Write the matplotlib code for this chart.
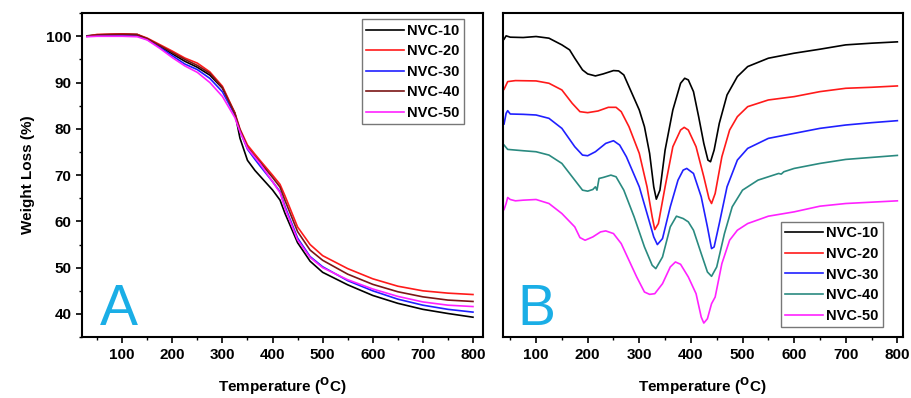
import numpy as np
import matplotlib.pyplot as plt
from matplotlib.ticker import MultipleLocator

plt.rcParams['font.family'] = ['Liberation Sans', 'DejaVu Sans']
plt.rcParams['font.weight'] = 'bold'

labels = ['NVC-10', 'NVC-20', 'NVC-30', 'NVC-40', 'NVC-50']

# --- panel A: TGA (weight %) ---
tga_t = [30, 50, 100, 130, 150, 175, 200, 225, 250, 275, 300, 325, 335, 350,
         365, 375, 400, 415, 425, 450, 475, 500, 550, 600, 650, 700, 750, 800]
tga_10 = [100.1, 100.3, 100.5, 100.4, 99.4, 97.8, 96.2, 94.6, 93.3, 91.6, 88.8, 83.4, 78.0, 73.2,
          71.0, 69.8, 66.8, 64.6, 61.7, 55.4, 51.4, 49.0, 46.3, 44.0, 42.3, 41.0, 40.1, 39.3]
tga_20 = [100.0, 100.4, 100.5, 100.4, 99.6, 98.2, 96.8, 95.3, 94.2, 92.3, 89.2, 83.4, 80.0, 76.5,
          74.5, 73.2, 70.0, 68.0, 65.5, 58.8, 55.0, 52.6, 49.8, 47.6, 46.0, 45.0, 44.5, 44.2]
tga_30 = [100.0, 100.1, 100.2, 100.1, 99.3, 97.6, 95.8, 94.0, 92.8, 90.9, 88.0, 83.0, 79.6, 75.6,
          73.4, 72.0, 68.6, 66.4, 63.2, 56.4, 52.4, 50.2, 47.2, 45.0, 43.2, 41.9, 41.0, 40.4]
tga_40 = [100.0, 100.3, 100.4, 100.3, 99.5, 98.0, 96.5, 95.0, 93.7, 92.0, 88.9, 83.2, 79.8, 76.0,
          74.0, 72.8, 69.5, 67.4, 64.5, 57.8, 53.8, 51.6, 48.6, 46.4, 44.8, 43.7, 43.0, 42.7]
tga_50 = [99.9, 100.0, 100.0, 99.9, 99.2, 97.4, 95.4, 93.6, 92.2, 90.0, 87.0, 82.4, 79.4, 75.8,
          73.8, 72.5, 68.6, 66.2, 62.8, 56.0, 52.2, 50.0, 47.4, 45.4, 43.8, 42.6, 41.9, 41.6]

# --- panel B: DTG (arbitrary units, offset curves) ---
dtg_t10 = [38, 42, 50, 75, 100, 125, 150, 165, 175, 190, 200, 215, 230, 250, 260, 270, 280, 300,
           310, 320, 328, 333, 340, 350, 365, 380, 388, 395, 405, 415, 425, 433, 438, 445, 455,
           470, 490, 510, 550, 600, 650, 700, 750, 800]
dtg_10 = [118, 108, 112, 113, 110, 115, 135, 150, 175, 210, 222, 228, 222, 212, 213, 225, 260, 330,
          380, 460, 560, 597, 570, 450, 330, 250, 235, 240, 275, 350, 430, 480, 485, 450, 370,
          285, 230, 200, 175, 160, 148, 135, 130, 126]
dtg_t20 = [38, 45, 60, 100, 125, 150, 170, 185, 200, 220, 240, 255, 265, 280, 300, 315, 325, 330,
           337, 350, 365, 380, 387, 395, 410, 425, 435, 440, 447, 460, 475, 490, 510, 550, 600,
           650, 700, 750, 800]
dtg_20 = [268, 245, 242, 243, 250, 270, 310, 335, 338, 333, 322, 322, 335, 380, 460, 560, 650, 688,
          670, 560, 440, 390, 382, 390, 440, 530, 595, 610, 580, 470, 390, 350, 320, 300, 290,
          275, 265, 262, 258]
dtg_t30 = [38, 42, 45, 50, 75, 100, 125, 150, 175, 190, 200, 215, 235, 250, 262, 275, 300, 315,
           328, 335, 345, 360, 375, 385, 392, 405, 420, 432, 440, 445, 455, 470, 490, 510, 550,
           600, 650, 700, 750, 800]
dtg_30 = [372, 340, 332, 342, 343, 345, 355, 385, 440, 465, 467, 455, 430, 422, 435, 470, 560, 640,
          710, 733, 715, 620, 540, 510, 505, 520, 590, 680, 745, 740, 670, 560, 480, 445, 415,
          400, 385, 375, 368, 362]
dtg_t40 = [38, 45, 75, 100, 125, 150, 175, 190, 200, 210, 215, 218, 222, 230, 245, 255, 270, 290,
           310, 325, 332, 345, 360, 372, 385, 395, 405, 420, 432, 440, 450, 465, 480, 500, 530,
           570, 575, 580, 600, 650, 700, 750, 800]
dtg_40 = [435, 448, 452, 455, 465, 490, 540, 570, 573, 568, 560, 570, 535, 532, 525, 530, 570, 650,
          740, 795, 805, 770, 680, 648, 655, 665, 690, 760, 815, 828, 800, 700, 620, 570, 540,
          520, 522, 515, 505, 490, 478, 472, 466]
dtg_t50 = [38, 42, 45, 50, 60, 75, 100, 125, 150, 175, 185, 195, 210, 225, 235, 250, 265, 280, 295,
           310, 320, 330, 345, 360, 370, 380, 395, 410, 420, 425, 432, 440, 447, 460, 475, 490,
           510, 550, 600, 650, 700, 750, 800]
dtg_50 = [628, 610, 592, 598, 602, 600, 598, 610, 640, 680, 712, 720, 710, 695, 692, 700, 730, 780,
          830, 875, 882, 880, 850, 800, 785, 792, 830, 880, 950, 968, 955, 910, 890, 790, 720,
          690, 670, 648, 635, 618, 610, 606, 602]

colors_a = ['black', '#ff1a1a', '#2020ff', '#7a1515', '#ff22ff']
colors_b = ['black', '#ff1a1a', '#2020ff', '#2a8a80', '#ff22ff']
cyan = '#1aaee6'

fig = plt.figure(figsize=(9.12, 3.98), dpi=100)
ax1 = fig.add_axes([0.09, 0.153, 0.4396, 0.814])
ax2 = fig.add_axes([0.551, 0.153, 0.4386, 0.814])

for y, c, lab in zip([tga_10, tga_20, tga_30, tga_40, tga_50], colors_a, labels):
    ax1.plot(tga_t, y, color=c, lw=1.2, label=lab)

ax1.set_xlim(20, 820)
ax1.set_ylim(35, 105)
ax1.xaxis.set_major_locator(MultipleLocator(100))
ax1.xaxis.set_minor_locator(MultipleLocator(50))
ax1.yaxis.set_minor_locator(MultipleLocator(5))
ax1.set_yticks(range(40, 101, 10))
ax1.set_ylabel('Weight Loss (%)', fontsize=11, fontweight='bold', labelpad=8)
ax1.text(0.045, 0.037, 'A', transform=ax1.transAxes, fontsize=41, color=cyan,
         fontweight='normal', ha='left', va='baseline')
leg1 = ax1.legend(loc='upper right', bbox_to_anchor=(0.953, 0.981), fontsize=10.5,
                  frameon=True, fancybox=False, edgecolor='#555555',
                  handlelength=2.6, handletextpad=0.2, borderpad=0.3,
                  labelspacing=0.45, borderaxespad=0.0)
leg1.get_frame().set_linewidth(1.0)

dtg_sets = [(dtg_t10, dtg_10), (dtg_t20, dtg_20), (dtg_t30, dtg_30),
            (dtg_t40, dtg_40), (dtg_t50, dtg_50)]
for (t, y), c, lab in zip(dtg_sets, colors_b, labels):
    ax2.plot(t, -np.array(y), color=c, lw=1.2, label=lab)

ax2.set_xlim(35, 810)
ax2.set_ylim(-1010, -40)
ax2.xaxis.set_major_locator(MultipleLocator(100))
ax2.xaxis.set_minor_locator(MultipleLocator(50))
ax2.set_yticks([])
ax2.text(0.038, 0.037, 'B', transform=ax2.transAxes, fontsize=41, color=cyan,
         fontweight='normal', ha='left', va='baseline')
leg2 = ax2.legend(loc='lower right', bbox_to_anchor=(0.951, 0.031), fontsize=10.5,
                  frameon=True, fancybox=False, edgecolor='#555555',
                  handlelength=2.6, handletextpad=0.2, borderpad=0.3,
                  labelspacing=0.45, borderaxespad=0.0)
leg2.get_frame().set_linewidth(1.0)

for ax in (ax1, ax2):
    ax.set_xlabel(r'Temperature ($^{\mathbf{O}}$C)', fontsize=11, fontweight='bold', labelpad=10)
    for s in ax.spines.values():
        s.set_linewidth(1.5)
    ax.tick_params(which='major', direction='out', length=4, width=1.2, labelsize=11)
    ax.tick_params(which='minor', direction='out', length=2.5, width=1.0)
    for lbl in ax.get_xticklabels() + ax.get_yticklabels():
        lbl.set_fontweight('bold')

fig.savefig('out.png', dpi=100)
